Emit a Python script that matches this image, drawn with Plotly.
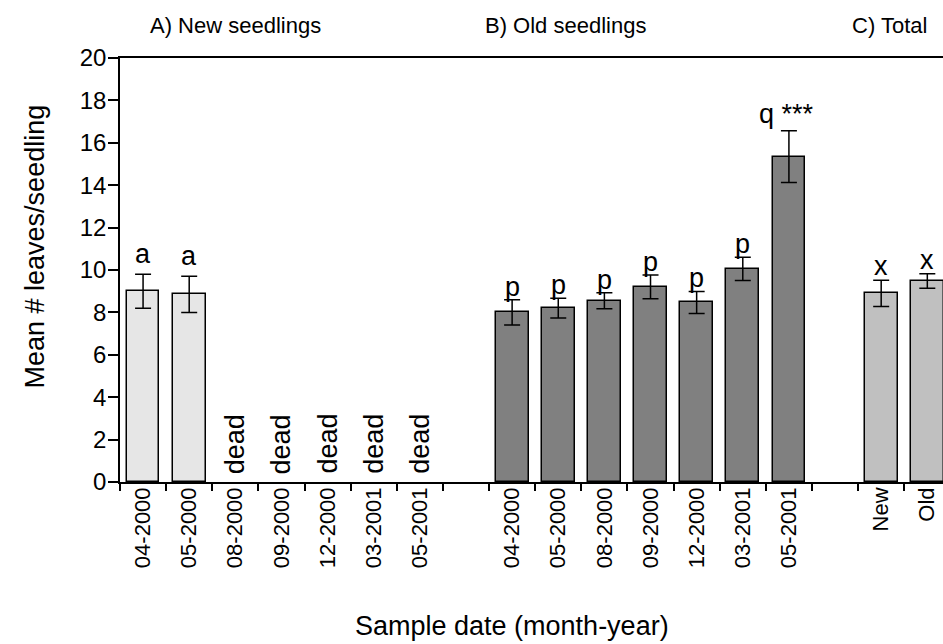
import plotly.graph_objects as go

# Sample dates (month-year) for each seedling cohort
new_dates = ["04-2000", "05-2000", "08-2000", "09-2000", "12-2000", "03-2001", "05-2001"]
old_dates = ["04-2000", "05-2000", "08-2000", "09-2000", "12-2000", "03-2001", "05-2001"]
total_groups = ["New", "Old"]

# Mean number of leaves per seedling (None = all seedlings dead) and standard errors
new_means = [9.0, 8.85, None, None, None, None, None]
new_err = [0.8, 0.85, None, None, None, None, None]
old_means = [8.0, 8.2, 8.55, 9.2, 8.47, 10.05, 15.35]
old_err = [0.6, 0.47, 0.38, 0.56, 0.52, 0.55, 1.22]
total_means = [8.9, 9.48]
total_err = [0.62, 0.34]

# Significance letters
new_letters = ["a", "a", "", "", "", "", ""]
old_letters = ["p", "p", "p", "p", "p", "p", "q ***"]
total_letters = ["x", "x"]

panel_titles = ["A) New seedlings", "B) Old seedlings", "C) Total"]

FONT = "Arial, Liberation Sans, sans-serif"
XTICK_FS = 22
YTICK_FS = 24
LABEL_FS = 27
TITLE_FS = 27

# slot positions along the x axis: 7 new, gap, 7 old, gap, 2 totals
new_x = list(range(0, 7))
old_x = list(range(8, 15))
tot_x = [16, 17]
n_slots = 18
x_range = [-0.5, 17.34]

fig = go.Figure()

err_style = dict(type="data", color="black", thickness=1.5, width=8, visible=True)
bar_line = dict(color="black", width=1.5)
BAR_W = 0.71

live_new = [i for i, m in enumerate(new_means) if m is not None]
fig.add_trace(go.Bar(
    x=[new_x[i] for i in live_new], y=[new_means[i] for i in live_new],
    width=BAR_W, marker=dict(color="#e6e6e6", line=bar_line),
    error_y=dict(array=[new_err[i] for i in live_new], **err_style),
))
fig.add_trace(go.Bar(
    x=old_x, y=old_means, width=BAR_W,
    marker=dict(color="#808080", line=bar_line),
    error_y=dict(array=old_err, **err_style),
))
fig.add_trace(go.Bar(
    x=tot_x, y=total_means, width=BAR_W,
    marker=dict(color="#c0c0c0", line=bar_line),
    error_y=dict(array=total_err, **err_style),
))

annotations = []


def letter(x, top, text, yshift=0, xshift=0, size=LABEL_FS):
    annotations.append(dict(
        x=x, y=top, xref="x", yref="y", text=text, showarrow=False,
        yanchor="bottom", xanchor="center", yshift=yshift, xshift=xshift,
        font=dict(family=FONT, size=size, color="black"),
    ))


for i, t in enumerate(new_letters):
    if new_means[i] is not None and t:
        letter(new_x[i], new_means[i] + new_err[i], t, yshift=3)
    elif new_means[i] is None:
        annotations.append(dict(
            x=new_x[i], y=0, xref="x", yref="y", text="dead", showarrow=False,
            textangle=-90, yanchor="bottom", xanchor="center", yshift=6,
            font=dict(family=FONT, size=LABEL_FS, color="black"),
        ))

for i, t in enumerate(old_letters):
    top = old_means[i] + old_err[i]
    if t.startswith("q"):
        letter(old_x[i], top, t, yshift=0, xshift=-2)
    else:
        letter(old_x[i], top, t, yshift=-4)

for i, t in enumerate(total_letters):
    letter(tot_x[i], total_means[i] + total_err[i], t, yshift=-3)

# panel headings
for xc, title in zip([2.0, 9.15, 16.17], panel_titles):
    annotations.append(dict(
        x=xc, y=1.0, xref="x", yref="paper", text=title, showarrow=False,
        yanchor="bottom", xanchor="center", yshift=18,
        font=dict(family=FONT, size=XTICK_FS, color="black"),
    ))

# axis titles
annotations.append(dict(
    x=-0.103, y=0.556, xref="paper", yref="paper", text="Mean # leaves/seedling",
    showarrow=False, textangle=-90, xanchor="center", yanchor="middle",
    font=dict(family=FONT, size=TITLE_FS, color="black"),
))
annotations.append(dict(
    x=0.476, y=-0.339, xref="paper", yref="paper", text="Sample date (month-year)",
    showarrow=False, xanchor="center", yanchor="middle",
    font=dict(family=FONT, size=TITLE_FS, color="black"),
))

cat_x = new_x + old_x + tot_x
cat_text = new_dates + old_dates + total_groups

fig.update_layout(
    width=943, height=644,
    margin=dict(l=120, r=0, t=58, b=162),
    paper_bgcolor="white", plot_bgcolor="white",
    showlegend=False, bargap=0,
    font=dict(family=FONT, size=XTICK_FS, color="black"),
    xaxis=dict(
        range=x_range, tickvals=[k - 0.5 for k in range(n_slots)],
        ticktext=[""] * n_slots, ticks="outside", ticklen=7, tickwidth=1.5,
        tickcolor="black", showline=True, linewidth=1.5, linecolor="black",
        mirror=True, showgrid=False, zeroline=False,
    ),
    xaxis2=dict(
        range=x_range, overlaying="x", anchor="y", side="bottom",
        tickvals=cat_x, ticktext=cat_text, tickangle=-90, ticks="",
        showline=False, showgrid=False, zeroline=False,
        tickfont=dict(family=FONT, size=XTICK_FS, color="black"),
    ),
    yaxis=dict(
        range=[0, 20], dtick=2, ticks="outside", ticklen=10, tickwidth=1.5,
        tickcolor="black", showline=True, linewidth=1.5, linecolor="black",
        showgrid=False, zeroline=False, ticklabelstandoff=-3,
        tickfont=dict(family=FONT, size=YTICK_FS, color="black"),
    ),
    annotations=annotations,
)

# a hidden trace keeps the label axis active
fig.add_trace(go.Scatter(x=cat_x, y=[0] * len(cat_x), xaxis="x2", mode="markers",
                         marker=dict(opacity=0), hoverinfo="skip"))

fig.write_html("out.html")
